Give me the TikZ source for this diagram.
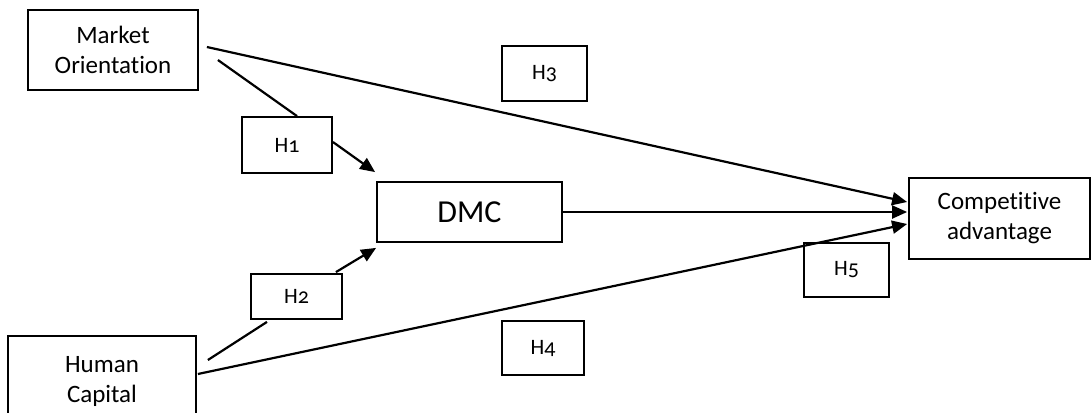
\documentclass[tikz,border=0pt]{standalone}
\usepackage{fontspec}
\setmainfont{Carlito}[Numbers=OldStyle,Ligatures=NoCommon]
\usetikzlibrary{arrows.meta}
\begin{document}
\begin{tikzpicture}[x=1pt,y=-1pt,
  box/.style={draw=black,line width=1.8pt,fill=white,rectangle,inner sep=0pt,align=center,font=\fontsize{25}{30}\selectfont},
  hbox/.style={box,font=\fontsize{22}{25}\selectfont},
  conn/.style={line width=2.2pt},
  arr/.style={conn,-{Triangle[length=15pt,width=13pt]}}]
\useasboundingbox (0,0) rectangle (1091,412);
\clip (0,0) rectangle (1091,412);
\node[box,minimum width=170pt,minimum height=80pt] (mo) at (113,50) {Market\\Orientation};
\node[box,minimum width=188pt,minimum height=90pt] (hc) at (102,381) {Human\\Capital};
\node[box,minimum width=185pt,minimum height=60pt,font=\fontsize{32}{36}\selectfont] (dmc) at (469.5,212) {DMC};
\node[box,minimum width=181pt,minimum height=81pt] (ca) at (999.5,218.5) {Competitive\\advantage};
\node[hbox,minimum width=90pt,minimum height=56pt] (h1) at (287,145) {H1};
\node[hbox,minimum width=91pt,minimum height=45pt] (h2) at (296.5,296.5) {H2};
\node[hbox,minimum width=85pt,minimum height=55pt] (h3) at (544.5,73.5) {H3};
\node[hbox,minimum width=82pt,minimum height=54pt] (h4) at (543,348) {H4};
\node[hbox,minimum width=85pt,minimum height=54pt] (h5) at (846.5,270) {H5};
\draw[arr] ([shift={(8,-3)}]mo.east) -- ([shift={(-1,-16.5)}]ca.west);
\draw[conn] ([shift={(19,10)}]mo.east) -- ([shift={(10,0)}]h1.north);
\draw[arr] ([shift={(0,-3)}]h1.east) -- ([shift={(-1,-9)}]dmc.north west);
\draw[conn] ([shift={(11,-21)}]hc.east) -- ([shift={(-29.5,2)}]h2.south);
\draw[arr] ([shift={(-7,-1)}]h2.north east) -- ([shift={(0,5)}]dmc.south west);
\draw[arr] ([shift={(1,-7)}]hc.east) -- ([shift={(-1,5.5)}]ca.west);
\draw[arr] (dmc.east) -- ([shift={(-1,-6.5)}]ca.west);
\end{tikzpicture}
\end{document}
